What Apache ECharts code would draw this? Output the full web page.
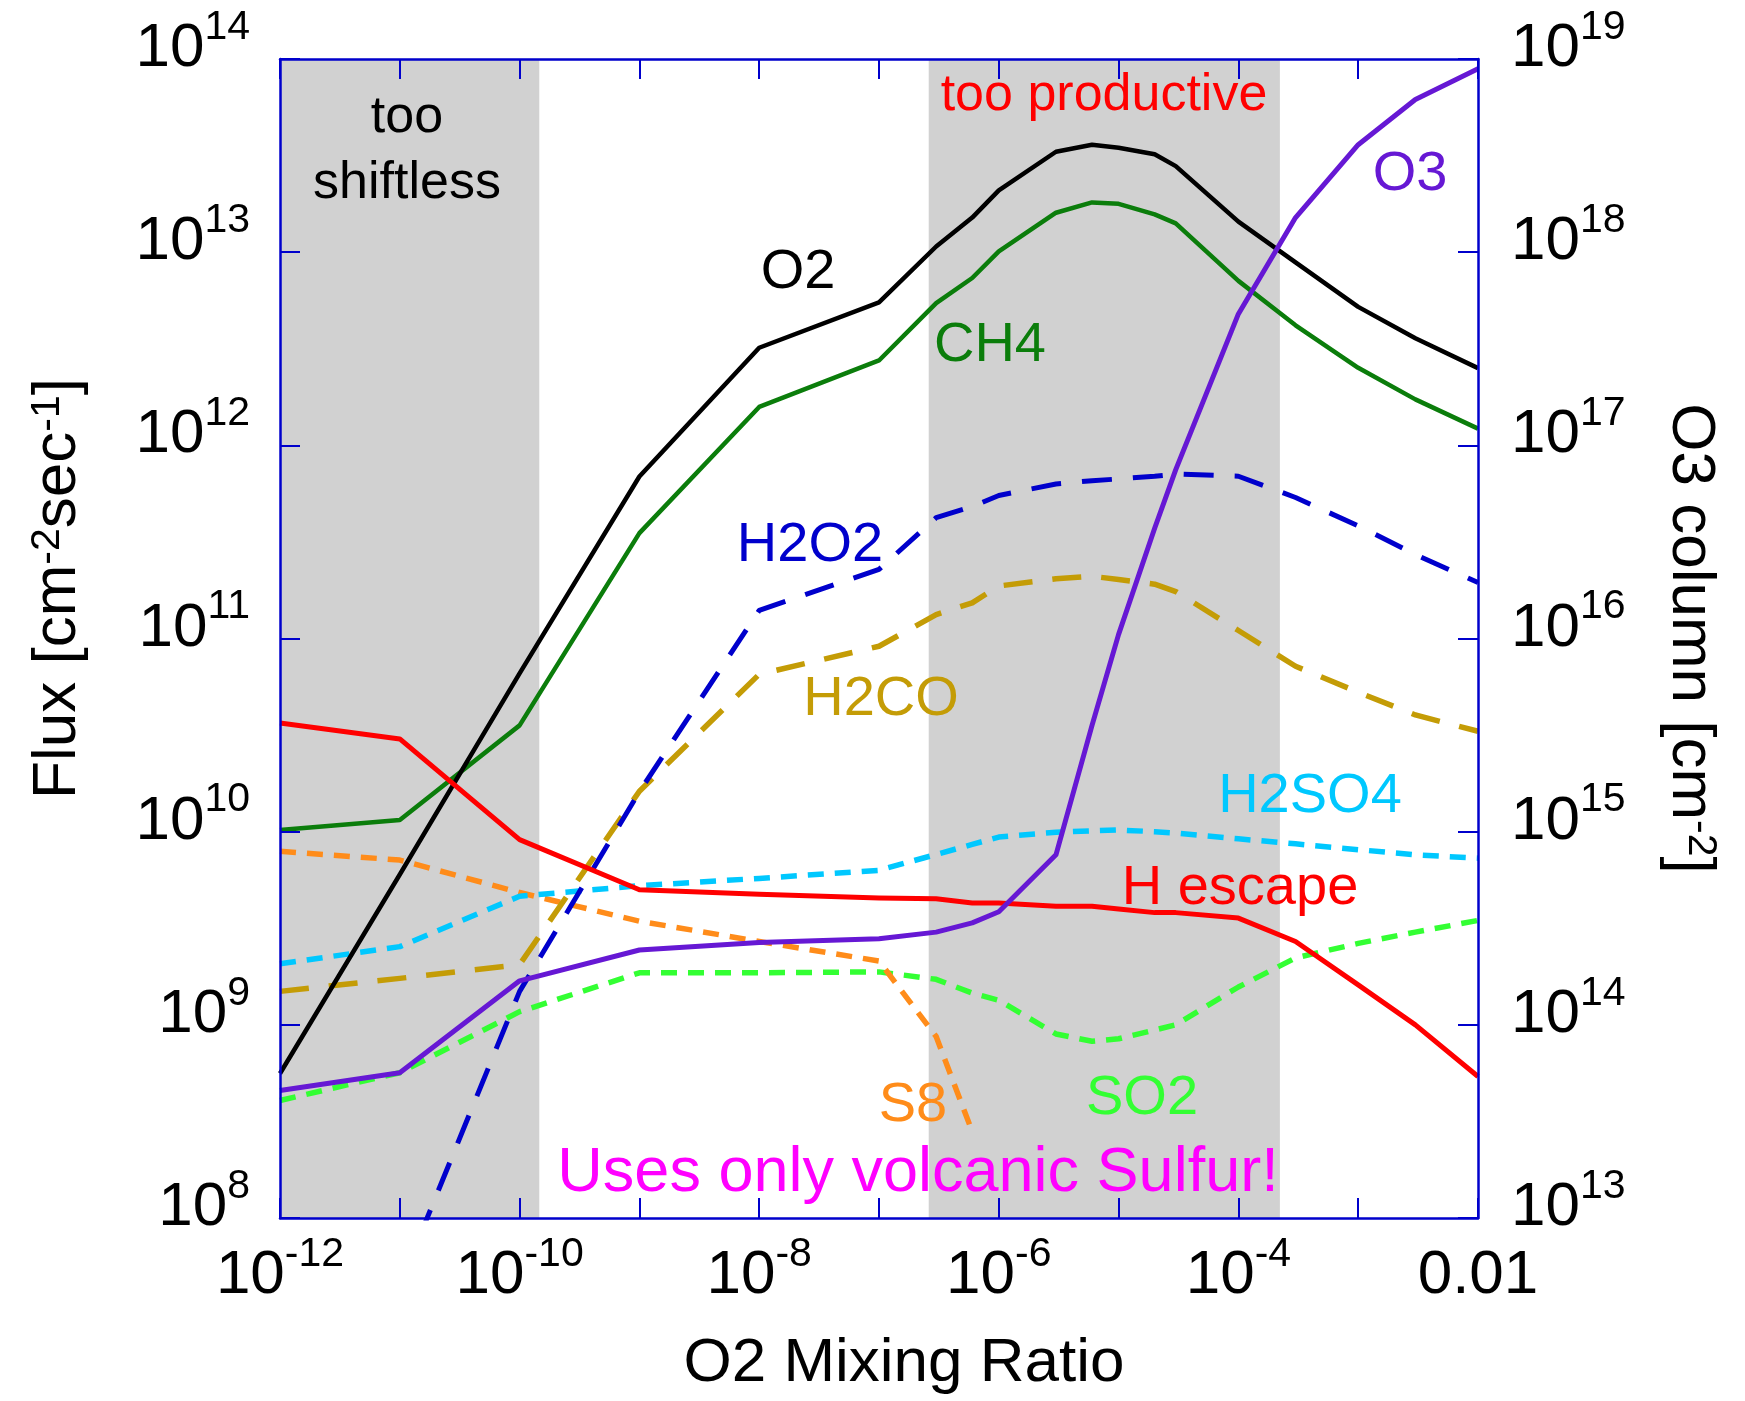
<!DOCTYPE html>
<html>
<head>
<meta charset="utf-8">
<script src="https://cdn.jsdelivr.net/npm/echarts@6/dist/echarts.min.js"></script>
<style>
html, body { margin: 0; padding: 0; background: #ffffff; }
#chart { width: 1745px; height: 1401px; }
</style>
</head>
<body>
<div id="chart"></div>
<script>
// ---------------- data ----------------
const mixingRatio = [1e-12, 1e-11, 1e-10, 1e-9, 1e-8, 1e-7, 3e-7, 6e-7, 1e-6, 3e-6, 6e-6, 1e-5, 2e-5, 3e-5, 1e-4, 3e-4, 1e-3, 3e-3, 1e-2];

const fluxO2 = [5.6e8, 6.0e9, 6.6e10, 6.9e11, 3.2e12, 5.5e12, 1.07e13, 1.51e13, 2.09e13, 3.31e13, 3.6e13, 3.47e13, 3.21e13, 2.79e13, 1.44e13, 8.85e12, 5.21e12, 3.58e12, 2.51e12];
const fluxCH4 = [1.02e10, 1.15e10, 3.55e10, 3.51e11, 1.58e12, 2.75e12, 5.45e12, 7.35e12, 1.01e13, 1.6e13, 1.81e13, 1.78e13, 1.57e13, 1.41e13, 7.1e12, 4.18e12, 2.52e12, 1.73e12, 1.22e12];
const fluxHEscape = [3.65e10, 3.02e10, 9.1e9, 5.0e9, 4.74e9, 4.53e9, 4.49e9, 4.27e9, 4.27e9, 4.11e9, 4.11e9, 3.98e9, 3.81e9, 3.81e9, 3.57e9, 2.7e9, 1.61e9, 1.0e9, 5.4e8];
const columnO3 = [4.57e13, 5.65e13, 1.69e14, 2.44e14, 2.67e14, 2.79e14, 3.02e14, 3.37e14, 3.85e14, 7.59e14, 3.55e15, 1.05e16, 3.72e16, 7.48e16, 4.79e17, 1.51e18, 3.6e18, 6.17e18, 8.91e18];
const fluxH2O2 = [null, 4.5e7, 1.49e9, 1.61e10, 1.4e11, 2.28e11, 4.22e11, 4.82e11, 5.5e11, 6.31e11, 6.56e11, 6.7e11, 6.92e11, 7.1e11, 6.92e11, 5.37e11, 3.83e11, 2.72e11, 1.95e11];
const fluxH2CO = [1.49e9, 1.74e9, 2.05e9, 1.62e10, 6.53e10, 9.12e10, 1.33e11, 1.53e11, 1.87e11, 2.04e11, 2.1e11, 2.02e11, 1.91e11, 1.75e11, 1.1e11, 7.18e10, 5.27e10, 4.02e10, 3.31e10];
const fluxH2SO4 = [2.07e9, 2.54e9, 4.63e9, 5.25e9, 5.73e9, 6.31e9, 7.62e9, 8.59e9, 9.38e9, 9.93e9, 1.01e10, 1.02e10, 1.0e10, 9.84e9, 9.18e9, 8.65e9, 8.07e9, 7.59e9, 7.29e9];
const fluxS8 = [7.91e9, 7.13e9, 4.84e9, 3.44e9, 2.7e9, 2.14e9, 8.7e8, 2.8e8, null, null, null, null, null, null, null, null, null, null, null];
const fluxSO2 = [4.06e8, 5.65e8, 1.17e9, 1.86e9, 1.86e9, 1.88e9, 1.72e9, 1.46e9, 1.34e9, 8.97e8, 8.22e8, 8.47e8, 9.4e8, 1.0e9, 1.57e9, 2.22e9, 2.64e9, 3.02e9, 3.47e9];

// shaded regimes (O2 mixing ratio ranges)
const shiftlessRange = [1e-12, 1.46e-10];
const productiveRange = [2.6e-7, 2.22e-4];

// tick labels
const xLabeledExponents = [-12, -10, -8, -6, -4];
const xLastTickValueLabel = '0.01';
const xLastTickExponent = -2;

// ---------------- chart ----------------
const FONT = 'Liberation Sans, Arial, Helvetica, sans-serif';
const AXIS_BLUE = '#0000cc';

function pairs(ys) {
  return mixingRatio.map((x, i) => [x, ys[i]]).filter(p => p[1] != null);
}
function expOf(v) { return Math.round(Math.log10(v)); }

const supStyle = { fontSize: 41, verticalAlign: 'top', padding: [0, 0, 32, 0], fontFamily: FONT, color: '#000' };
const baseStyle = { fontSize: 62, lineHeight: 62, verticalAlign: 'bottom', fontFamily: FONT, color: '#000' };
const plainStyle = { fontSize: 62, lineHeight: 62, verticalAlign: 'top', padding: [11, 0, 0, 0], fontFamily: FONT, color: '#000' };
const richTick = { b: baseStyle, s: supStyle, p: plainStyle };

function xFmt(v) {
  const e = expOf(v);
  if (e === xLastTickExponent) return '{p|' + xLastTickValueLabel + '}';
  if (xLabeledExponents.indexOf(e) < 0) return '';
  return '{b|10}{s|' + e + '}';
}
function yFmt(v) {
  return '{b|10}{s|' + expOf(v) + '}';
}

const axisLineStyle = { show: true, onZero: false, lineStyle: { color: AXIS_BLUE, width: 2.5 } };
const axisTickStyle = { show: true, inside: true, length: 20, lineStyle: { color: AXIS_BLUE, width: 2 } };

function lineSeries(name, ys, color, width, dash, yIdx, z) {
  return {
    name: name, type: 'line', data: pairs(ys), yAxisIndex: yIdx || 0, xAxisIndex: 0,
    symbol: 'none', showSymbol: false, smooth: false, z: z || 3,
    itemStyle: { color: color },
    lineStyle: { color: color, width: width, type: dash || 'solid', cap: 'butt', join: 'round' },
    emphasis: { disabled: true }
  };
}

const labelText = (text, x, y, color, size, lineHeight) => ({
  type: 'text', x: x, y: y, z: 100, silent: true,
  style: { text: text, fill: color, fontSize: size, lineHeight: lineHeight || size, fontFamily: FONT, align: 'center', verticalAlign: 'middle' }
});

const chart = echarts.init(document.getElementById('chart'), null, { renderer: 'canvas' });

const option = {
  backgroundColor: '#ffffff',
  animation: false,
  grid: { left: 280, right: 267, top: 59, bottom: 183, containLabel: false, outerBoundsMode: 'none' },
  xAxis: [
    {
      type: 'log', logBase: 10, min: 1e-12, max: 1e-2, splitNumber: 10, position: 'bottom', z: 10,
      axisLine: axisLineStyle, axisTick: axisTickStyle, splitLine: { show: false }, minorTick: { show: false },
      axisLabel: { margin: 16, formatter: xFmt, rich: richTick, showMinLabel: true, showMaxLabel: true },
      name: 'O2 Mixing Ratio', nameLocation: 'middle', nameGap: 115,
      nameTextStyle: { fontSize: 62, lineHeight: 62, fontFamily: FONT, color: '#000', padding: [0, 0, 0, 50] }
    },
    {
      type: 'log', logBase: 10, min: 1e-12, max: 1e-2, splitNumber: 10, position: 'top', z: 10,
      axisLine: axisLineStyle, axisTick: axisTickStyle, splitLine: { show: false },
      axisLabel: { show: false }
    }
  ],
  yAxis: [
    {
      type: 'log', logBase: 10, min: 1e8, max: 1e14, splitNumber: 6, position: 'left', z: 10,
      axisLine: axisLineStyle, axisTick: axisTickStyle, splitLine: { show: false },
      axisLabel: { margin: 30, formatter: yFmt, rich: richTick, padding: [0, 0, 31, 0], showMinLabel: true, showMaxLabel: true },
      name: '{b|Flux [cm}{s|-2}{b|sec}{s|-1}{b|]}', nameLocation: 'middle', nameGap: 191,
      nameTextStyle: {
        fontSize: 62, lineHeight: 62, fontFamily: FONT, color: '#000', padding: [0, 0, 0, 100],
        rich: { b: baseStyle, s: supStyle }
      }
    },
    {
      type: 'log', logBase: 10, min: 1e13, max: 1e19, splitNumber: 6, position: 'right', z: 10,
      axisLine: axisLineStyle, axisTick: axisTickStyle, splitLine: { show: false },
      axisLabel: { margin: 33, formatter: yFmt, rich: richTick, padding: [0, 0, 31, 0], showMinLabel: true, showMaxLabel: true },
      name: '{b|O3 column [cm}{s|-2}{b|]}', nameLocation: 'middle', nameGap: 181, nameRotate: -90,
      nameTextStyle: {
        fontSize: 62, lineHeight: 62, fontFamily: FONT, color: '#000',
        rich: { b: baseStyle, s: supStyle }
      }
    }
  ],
  series: [
    Object.assign(lineSeries('SO2', fluxSO2, '#33ff33', 5.5, [16, 11], 0, 3), {
      markArea: {
        silent: true, z: 1,
        itemStyle: { color: '#d1d1d1', borderWidth: 0 },
        label: { show: false },
        data: [
          [{ xAxis: shiftlessRange[0], yAxis: 1e8 }, { xAxis: shiftlessRange[1], yAxis: 1e14 }],
          [{ xAxis: productiveRange[0], yAxis: 1e8 }, { xAxis: productiveRange[1], yAxis: 1e14 }]
        ]
      }
    }),
    lineSeries('S8', fluxS8, '#ff8c1a', 5.5, [16, 11], 0, 3),
    lineSeries('H2SO4', fluxH2SO4, '#00c8ff', 5.5, [16, 11], 0, 3),
    lineSeries('H2CO', fluxH2CO, '#c49c06', 5.5, [29, 20], 0, 4),
    lineSeries('H2O2', fluxH2O2, '#0000cc', 5, [30, 21], 0, 4),
    lineSeries('CH4', fluxCH4, '#0b7d0b', 4.5, 'solid', 0, 5),
    lineSeries('O2', fluxO2, '#000000', 4.5, 'solid', 0, 5),
    lineSeries('H escape', fluxHEscape, '#ff0000', 5, 'solid', 0, 5),
    lineSeries('O3', columnO3, '#6618d4', 5, 'solid', 1, 6)
  ],
  graphic: [
    labelText('too\nshiftless', 407, 151, '#000000', 52, 66),
    labelText('too productive', 1104, 96, '#ff0000', 52),
    labelText('O2', 798, 273, '#000000', 56),
    labelText('CH4', 990, 346, '#0b7d0b', 56),
    labelText('H2O2', 810, 546, '#0000cc', 56),
    labelText('H2CO', 881, 700, '#c49c06', 56),
    labelText('O3', 1410, 175, '#6618d4', 56),
    labelText('H2SO4', 1310, 797, '#00c8ff', 56),
    labelText('H escape', 1240, 889, '#ff0000', 56),
    labelText('S8', 913, 1106, '#ff8c1a', 56),
    labelText('SO2', 1142, 1099, '#33ff33', 56),
    labelText('Uses only volcanic Sulfur!', 918, 1174, '#ff00ff', 63)
  ]
};

chart.setOption(option);
</script>
</body>
</html>
